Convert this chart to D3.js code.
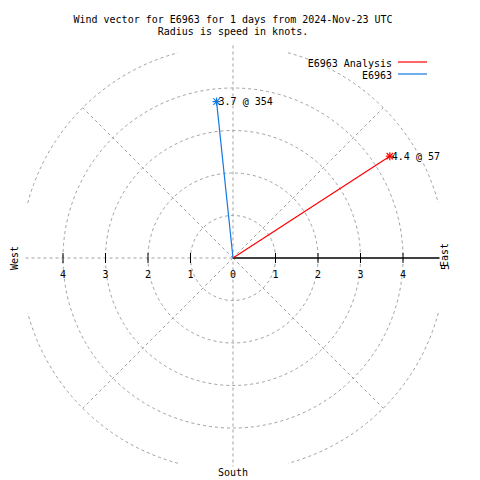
<!DOCTYPE html>
<html>
<head>
<meta charset="utf-8">
<script src="https://cdn.jsdelivr.net/npm/d3@7"></script>
<style>
  body { margin: 0; background: #fff; }
  text { font-family: "DejaVu Sans Mono", monospace; font-size: 10px; fill: #000; }
</style>
</head>
<body>
<svg id="chart" width="480" height="480"></svg>
<script>
// ---- data ----
const seriesNames = ["E6963 Analysis", "E6963"];
const seriesSpeeds = [4.4, 3.7];
const seriesDirections = [57, 354];
const seriesColors = ["#ff0000", "#1478e0"];
const ringValues = [1, 2, 3, 4, 5];
const eastTickLabels = ["0", "1", "2", "3", "4", "5"];
const westTickLabels = ["4", "3", "2", "1"];
const titleLines = ["Wind vector for E6963 for 1 days from 2024-Nov-23 UTC", "Radius is speed in knots."];

// ---- layout ----
const W = 480, H = 480;
const cx = 233, cy = 258;
const r = d3.scaleLinear().domain([0, 5]).range([0, 212.5]);
const svg = d3.select("#chart");
const grid = "#a0a0a0";

function pt(speed, dirDeg) {
  const a = dirDeg * Math.PI / 180;
  return [cx + r(speed) * Math.sin(a), cy - r(speed) * Math.cos(a)];
}

// rings 1..4 full circles
svg.append("g").selectAll("circle")
  .data(ringValues.filter(v => v < 5))
  .join("circle")
  .attr("cx", cx).attr("cy", cy).attr("r", d => r(d))
  .attr("fill", "none").attr("stroke", grid).attr("stroke-dasharray", "3,3");

// outer ring 5: arcs 15..75 deg in each quadrant
const arcGen = d3.arc();
svg.append("g").attr("transform", `translate(${cx},${cy})`)
  .selectAll("path")
  .data([0, 90, 180, 270])
  .join("path")
  .attr("d", q => {
    const a0 = (q + 15) * Math.PI / 180, a1 = (q + 75) * Math.PI / 180;
    const R = r(5);
    const p0 = [R * Math.sin(a0), -R * Math.cos(a0)];
    const p1 = [R * Math.sin(a1), -R * Math.cos(a1)];
    return `M${p0[0]},${p0[1]}A${R},${R} 0 0 1 ${p1[0]},${p1[1]}`;
  })
  .attr("fill", "none").attr("stroke", grid).attr("stroke-dasharray", "3,3");

// diagonals
svg.append("g").selectAll("line")
  .data([45, 135, 225, 315])
  .join("line")
  .attr("x1", cx).attr("y1", cy)
  .attr("x2", d => pt(5, d)[0]).attr("y2", d => pt(5, d)[1])
  .attr("stroke", grid).attr("stroke-dasharray", "3,3");

// vertical dashed axis
svg.append("line")
  .attr("x1", cx).attr("x2", cx).attr("y1", cy - r(5)).attr("y2", cy + r(5) - 4)
  .attr("stroke", grid).attr("stroke-dasharray", "3,3");
// west dashed axis
svg.append("line")
  .attr("x1", cx - r(5) + 5).attr("x2", cx).attr("y1", cy).attr("y2", cy)
  .attr("stroke", grid).attr("stroke-dasharray", "3,3");
// east solid axis
svg.append("line")
  .attr("x1", cx).attr("x2", cx + r(5) - 6).attr("y1", cy).attr("y2", cy)
  .attr("stroke", "#000").attr("stroke-width", 1.4);

// ticks
const tickVals = [1, 2, 3, 4];
svg.append("g").selectAll("line")
  .data(tickVals.flatMap(v => [v, -v]))
  .join("line")
  .attr("x1", d => cx + Math.sign(d) * r(Math.abs(d))).attr("x2", d => cx + Math.sign(d) * r(Math.abs(d)))
  .attr("y1", cy - 5).attr("y2", cy + 5)
  .attr("stroke", "#000");

// tick labels
svg.append("g").selectAll("text")
  .data(eastTickLabels.slice(0, 5))
  .join("text")
  .attr("x", (d, i) => cx + r(i)).attr("y", cy + 20)
  .attr("text-anchor", "middle").text(d => d);
svg.append("g").selectAll("text")
  .data(westTickLabels)
  .join("text")
  .attr("x", d => cx - r(+d)).attr("y", cy + 20)
  .attr("text-anchor", "middle").text(d => d);
svg.append("text")
  .attr("transform", `translate(${cx + r(5) - 0.5},${cy + 9}) rotate(-90)`)
  .attr("text-anchor", "middle").attr("dy", "0.35em").text(eastTickLabels[5]);

// direction labels
svg.append("text")
  .attr("transform", `translate(14,${cy}) rotate(-90)`)
  .attr("text-anchor", "middle").attr("dy", "0.35em").text("West");
svg.append("text")
  .attr("transform", `translate(444,${cy - 3}) rotate(-90)`)
  .attr("text-anchor", "middle").attr("dy", "0.35em").text("East");
svg.append("text")
  .attr("x", cx).attr("y", 476).attr("text-anchor", "middle").text("South");

// vectors
const vec = svg.append("g");
seriesNames.forEach((name, i) => {
  const [x, y] = pt(seriesSpeeds[i], seriesDirections[i]);
  vec.append("line").attr("x1", cx).attr("y1", cy).attr("x2", x).attr("y2", y)
    .attr("stroke", seriesColors[i]).attr("stroke-width", 1.2);
  const s = 4;
  [[-s, 0, s, 0], [0, -s, 0, s], [-s * 0.8, -s * 0.8, s * 0.8, s * 0.8], [-s * 0.8, s * 0.8, s * 0.8, -s * 0.8]]
    .forEach(a => vec.append("line")
      .attr("x1", x + a[0]).attr("y1", y + a[1]).attr("x2", x + a[2]).attr("y2", y + a[3])
      .attr("stroke", seriesColors[i]).attr("stroke-width", 1.2));
  vec.append("text").attr("x", x + 2).attr("y", y).attr("dy", "0.35em")
    .text(`${seriesSpeeds[i]} @ ${seriesDirections[i]}`);
});

// legend
const leg = svg.append("g");
seriesNames.forEach((name, i) => {
  const y = 63 + i * 12;
  leg.append("text").attr("x", 392).attr("y", y).attr("dy", "0.35em")
    .attr("text-anchor", "end").text(name);
  leg.append("line").attr("x1", 398).attr("x2", 427).attr("y1", y - 1).attr("y2", y - 1)
    .attr("stroke", seriesColors[i]).attr("stroke-width", 1.2);
});

// title
svg.append("g").selectAll("text")
  .data(titleLines)
  .join("text")
  .attr("x", cx).attr("y", (d, i) => 23 + i * 12)
  .attr("text-anchor", "middle").text(d => d);
</script>
</body>
</html>
